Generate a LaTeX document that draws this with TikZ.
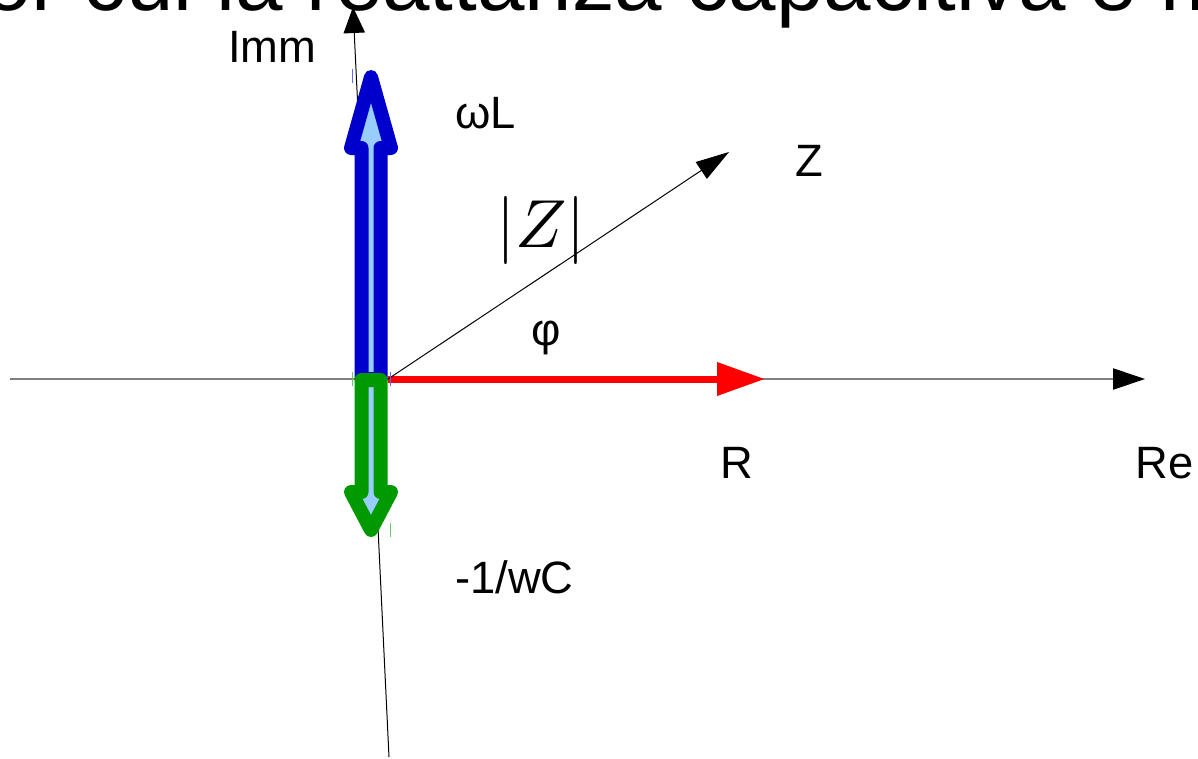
\documentclass[tikz,border=0pt]{standalone}
\usepackage{fontspec}
\setmainfont{Liberation Sans}
\usetikzlibrary{arrows.meta, positioning}
\definecolor{axisgray}{RGB}{128,128,128}
\definecolor{vecblue}{RGB}{0,0,204}
\definecolor{vecgreen}{RGB}{0,153,0}
\definecolor{vecfill}{RGB}{153,204,255}
\definecolor{handleblue}{RGB}{102,102,255}
\definecolor{handlegreen}{RGB}{102,204,102}
\tikzset{
  axis/.style={draw=axisgray, line width=0.8pt},
  thinvec/.style={draw=black, line width=0.75pt},
  fatvec/.style={line width=10.5pt, line join=round, fill=vecfill},
  handle/.style={line width=0.75pt},
  tag/.style={anchor=base west, inner sep=0pt, font=\fontsize{34}{40}\selectfont}
}
\begin{document}
\begin{tikzpicture}[x=0.75pt, y=-0.75pt]
  \clip (0,0) rectangle (1198,758);

  % title line, cut by the frame
  \node[anchor=base west, inner sep=0pt, font=\fontsize{64}{70}\selectfont] (title) at (-16,10) {or cui la reattanza capacitiva è m};

  % axes
  \coordinate (O) at (388,379);
  \coordinate (reStart) at (10,379);
  \coordinate (reEnd) at (1145,379);
  \coordinate (imBot) at (389,757);
  \coordinate (imTop) at (353,7);
  \draw[axis, -{Triangle[length=24pt, width=16pt, color=black]}] (reStart) -- (reEnd);
  \draw[thinvec, -{Triangle[length=19.5pt, width=16pt]}] (imBot) -- (imTop);

  % reactances
  \draw[fatvec, draw=vecblue] (361.5,379) -- (361.5,148) -- (351,148) -- (371,77)
    -- (391,148) -- (380.5,148) -- (380.5,379) -- cycle;
  \draw[fatvec, draw=vecgreen] (361.5,380) -- (361.5,492) -- (351,492) -- (371,530)
    -- (391,492) -- (380.5,492) -- (380.5,380) -- cycle;

  % resistance and impedance
  \coordinate (rTip) at (765,379);
  \coordinate (zTip) at (729,152);
  \draw[red, line width=5.25pt, -{Triangle[length=36pt, width=24pt]}] (O) -- (rTip);
  \draw[thinvec, -{Triangle[length=25pt, width=15pt]}] (O) -- (zTip);

  % selection handles
  \draw[handle, handleblue] (352,69) -- (352,83);
  \draw[handle, handleblue] (390,372) -- (390,386);
  \draw[handle, handlegreen] (352,372) -- (352,386);
  \draw[handle, handlegreen] (390,523) -- (390,537);

  % labels
  \node[tag] (imm) at (228,62) {Imm};
  \node[tag] (wl) at (455,128) {ωL};
  \node[tag] (zlab) at (795,176) {Z};
  \node[inner sep=0pt] (modz) at (541,230) {\scalebox{5.1}{\fontsize{10}{12}\selectfont$|Z|$}};
  \node[inner sep=0pt, font=\fontsize{34}{40}\selectfont] (phi) at (546,338) {φ};
  \node[tag] (rlab) at (720,478) {R};
  \node[tag] (relab) at (1135,478) {Re};
  \node[tag] (xc) at (455,593) {-1/wC};
\end{tikzpicture}
\end{document}
